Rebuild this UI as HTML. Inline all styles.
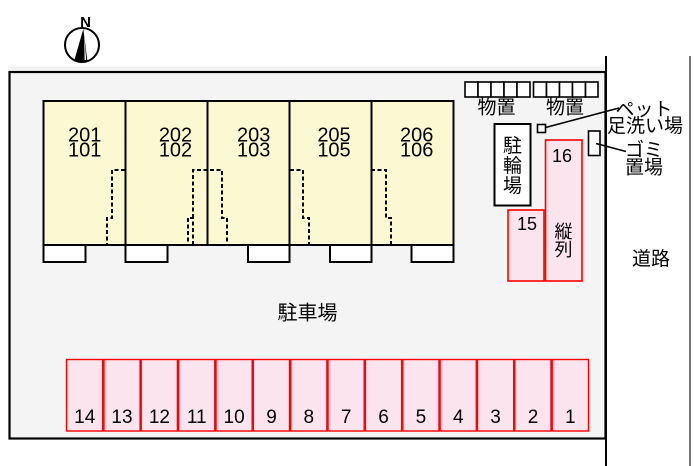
<!DOCTYPE html>
<html>
<head>
<meta charset="utf-8">
<style>
  html,body{margin:0;padding:0;background:#fff;}
  svg{display:block;}
  text{font-family:"Liberation Sans","Noto Sans CJK JP",sans-serif;fill:#000;}
</style>
</head>
<body>
<svg width="700" height="466" viewBox="0 0 700 466" xmlns="http://www.w3.org/2000/svg">
  <rect x="0" y="0" width="700" height="466" fill="#fff"/>
  <!-- faint shadow above lot -->
  <rect x="8" y="66" width="598" height="4" fill="#f3f3f3"/>
  <!-- lot -->
  <rect x="9.5" y="72" width="596" height="366.5" fill="#f4f4f4" stroke="#000" stroke-width="2.2"/>
  <line x1="606" y1="56" x2="606" y2="466" stroke="#000" stroke-width="2"/>
  <line x1="690" y1="56" x2="690" y2="466" stroke="#777" stroke-width="2"/>

  <!-- compass -->
  <circle cx="82" cy="45" r="17" fill="#fff" stroke="#000" stroke-width="2"/>
  <polygon points="83.3,29 74,61.5 87.5,61.5" fill="#000"/>
  <polygon points="84.2,36 86.2,60 84.6,60" fill="#fff"/>
  <text x="85.5" y="27" font-size="15" font-weight="bold" text-anchor="middle">N</text>

  <!-- building -->
  <g stroke="#000" stroke-width="2" fill="#fcf8d2">
    <rect x="43.5" y="101" width="82" height="144"/>
    <rect x="125.5" y="101" width="82" height="144"/>
    <rect x="207.5" y="101" width="82" height="144"/>
    <rect x="289.5" y="101" width="82" height="144"/>
    <rect x="371.5" y="101" width="82" height="144"/>
  </g>
  <!-- balconies -->
  <g stroke="#000" stroke-width="2" fill="#fff">
    <rect x="43.5" y="245" width="42" height="17"/>
    <rect x="125.5" y="245" width="42" height="17"/>
    <rect x="248" y="245" width="41.5" height="17"/>
    <rect x="330" y="245" width="41.5" height="17"/>
    <rect x="411.5" y="245" width="42" height="17"/>
  </g>
  <!-- dashed stairs -->
  <g stroke="#000" stroke-width="2" fill="none" stroke-dasharray="4 2.5">
    <path d="M125,170 H112 V218 H107 V245"/>
    <path d="M193,245 V218 H188 M193,218 V170 H222 V218 H227 V245"/>
    <path d="M188,218 V245"/>
    <path d="M290,170 H303 V218 H309 V245"/>
    <path d="M371,170 H386 V218 H391 V245"/>
  </g>
  <!-- unit labels -->
  <g font-size="20" text-anchor="middle">
    <text x="84.7" y="141.5">201</text><text x="84.7" y="156.5">101</text>
    <text x="175.5" y="141.5">202</text><text x="175.5" y="156.5">102</text>
    <text x="253.7" y="141.5">203</text><text x="253.7" y="156.5">103</text>
    <text x="334" y="141.5">205</text><text x="334" y="156.5">105</text>
    <text x="416.7" y="141.5">206</text><text x="416.7" y="156.5">106</text>
  </g>

  <!-- storage -->
  <g stroke="#000" stroke-width="1.6" fill="#fff">
    <rect x="465" y="82" width="13" height="15"/>
    <rect x="478" y="82" width="13" height="15"/>
    <rect x="491" y="82" width="13" height="15"/>
    <rect x="504" y="82" width="13" height="15"/>
    <rect x="517" y="82" width="13" height="15"/>
    <rect x="533.5" y="82" width="13" height="15"/>
    <rect x="546.5" y="82" width="13" height="15"/>
    <rect x="559.5" y="82" width="13" height="15"/>
    <rect x="572.5" y="82" width="13" height="15"/>
    <rect x="585.5" y="82" width="12.5" height="15"/>
  </g>
  <g font-size="19" text-anchor="middle">
    <text x="496.5" y="113.5">物置</text>
    <text x="565" y="113.5">物置</text>
  </g>

  <!-- bicycle parking -->
  <rect x="494.5" y="124" width="36" height="81.5" fill="#fff" stroke="#000" stroke-width="2"/>
  <g font-size="19" text-anchor="middle">
    <text x="512.5" y="152">駐</text>
    <text x="512.5" y="172">輪</text>
    <text x="512.5" y="192">場</text>
  </g>

  <!-- pet wash -->
  <rect x="537.5" y="124.5" width="8" height="8" fill="#fff" stroke="#000" stroke-width="1.6"/>
  <line x1="545.5" y1="127.5" x2="619" y2="108" stroke="#000" stroke-width="1.6"/>
  <text x="644" y="115.5" font-size="19" text-anchor="middle">ペット</text>
  <text x="645" y="132" font-size="19" text-anchor="middle">足洗い場</text>

  <!-- garbage -->
  <rect x="588.5" y="131" width="11.5" height="24.5" fill="#fff" stroke="#000" stroke-width="1.6"/>
  <line x1="596" y1="143.5" x2="626" y2="151.5" stroke="#000" stroke-width="1.6"/>
  <text x="625" y="156" font-size="19">ゴミ</text>
  <text x="625" y="173.5" font-size="19">置場</text>

  <!-- parking 15, 16 -->
  <rect x="508" y="210" width="36" height="71" fill="#fce4ee" stroke="#f00" stroke-width="1.6"/>
  <rect x="545.5" y="140" width="36.5" height="141" fill="#fce4ee" stroke="#f00" stroke-width="1.6"/>
  <text x="562" y="162" font-size="18" text-anchor="middle">16</text>
  <text x="527" y="230" font-size="18" text-anchor="middle">15</text>
  <text x="563.5" y="238" font-size="18" text-anchor="middle">縦</text>
  <text x="563.5" y="256" font-size="18" text-anchor="middle">列</text>

  <!-- road label -->
  <text x="651" y="265" font-size="19" text-anchor="middle">道路</text>

  <!-- parking lot label -->
  <text x="307.5" y="319.5" font-size="20" text-anchor="middle">駐車場</text>

  <!-- bottom parking row -->
  <g stroke="#f00" stroke-width="1.4" fill="#fce4ee">
    <rect x="66.5" y="359.5" width="36.2" height="71.5"/>
    <rect x="103.9" y="359.5" width="36.2" height="71.5"/>
    <rect x="141.2" y="359.5" width="36.2" height="71.5"/>
    <rect x="178.6" y="359.5" width="36.2" height="71.5"/>
    <rect x="216.0" y="359.5" width="36.2" height="71.5"/>
    <rect x="253.3" y="359.5" width="36.2" height="71.5"/>
    <rect x="290.7" y="359.5" width="36.2" height="71.5"/>
    <rect x="328.0" y="359.5" width="36.2" height="71.5"/>
    <rect x="365.4" y="359.5" width="36.2" height="71.5"/>
    <rect x="402.8" y="359.5" width="36.2" height="71.5"/>
    <rect x="440.1" y="359.5" width="36.2" height="71.5"/>
    <rect x="477.5" y="359.5" width="36.2" height="71.5"/>
    <rect x="514.8" y="359.5" width="36.2" height="71.5"/>
    <rect x="552.2" y="359.5" width="36.3" height="71.5"/>
  </g>
  <g font-size="19" text-anchor="middle">
    <text x="84.7" y="423">14</text>
    <text x="122" y="423">13</text>
    <text x="159.4" y="423">12</text>
    <text x="196.7" y="423">11</text>
    <text x="234.1" y="423">10</text>
    <text x="271.5" y="423">9</text>
    <text x="308.8" y="423">8</text>
    <text x="346.2" y="423">7</text>
    <text x="383.5" y="423">6</text>
    <text x="420.9" y="423">5</text>
    <text x="458.3" y="423">4</text>
    <text x="495.6" y="423">3</text>
    <text x="533" y="423">2</text>
    <text x="570.3" y="423">1</text>
  </g>
</svg>
</body>
</html>
